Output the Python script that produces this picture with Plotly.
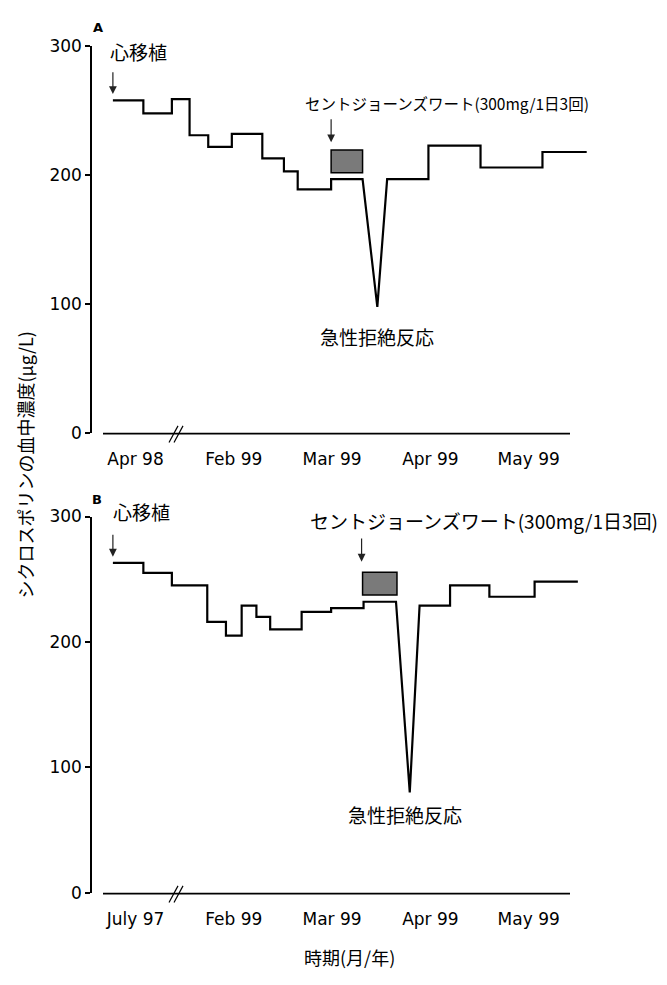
import plotly.graph_objects as go

W, H = 667, 985

# ---------------- data ----------------
tick_pos = [0, 1, 2, 3, 4]
months_A = ["Apr 98", "Feb 99", "Mar 99", "Apr 99", "May 99"]
months_B = ["July 97", "Feb 99", "Mar 99", "Apr 99", "May 99"]
y_ticks = [0, 100, 200, 300]

# Panel A: cyclosporine level steps (position on the broken time axis, level in ug/L)
a_pre_x = [-0.23, 0.08, 0.37, 0.55, 0.74, 0.98, 1.29, 1.51, 1.65, 1.99]
a_pre_y = [258, 248, 259, 231, 222, 232, 213, 203, 189, 197]
a_pre_end = 2.31
a_dip_x, a_dip_y = 2.46, 98
a_post_x = [2.56, 2.98, 3.51, 4.14]
a_post_y = [197, 223, 206, 218]
a_post_end = 4.59
a_sjw_x = [1.99, 2.31]
a_sjw_y = [202, 219.5]

# Panel B
b_pre_x = [-0.23, 0.08, 0.37, 0.73, 0.92, 1.08, 1.23, 1.37, 1.69, 1.99, 2.32]
b_pre_y = [263, 255, 245, 216, 205, 229, 220, 210, 224, 227, 232]
b_pre_end = 2.65
b_dip_x, b_dip_y = 2.79, 80
b_post_x = [2.89, 3.20, 3.60, 4.06]
b_post_y = [229, 245, 236, 248]
b_post_end = 4.50
b_sjw_x = [2.31, 2.66]
b_sjw_y = [237.5, 255.5]

sjw_label = "セントジョーンズワート(300mg/1日3回)"
tx_label = "心移植"
rej_label = "急性拒絶反応"


def build(sx, sy, end, dx, dy, px, py, pend):
    xs, ys = [], []
    for i in range(len(sx)):
        x1 = sx[i + 1] if i + 1 < len(sx) else end
        xs += [sx[i], x1]
        ys += [sy[i], sy[i]]
    xs.append(dx)
    ys.append(dy)
    for i in range(len(px)):
        x1 = px[i + 1] if i + 1 < len(px) else pend
        xs += [px[i], x1]
        ys += [py[i], py[i]]
    return xs, ys


ax_x, ax_y = build(a_pre_x, a_pre_y, a_pre_end, a_dip_x, a_dip_y, a_post_x, a_post_y, a_post_end)
bx_x, bx_y = build(b_pre_x, b_pre_y, b_pre_end, b_dip_x, b_dip_y, b_post_x, b_post_y, b_post_end)

fig = go.Figure()
fig.add_trace(go.Scatter(x=ax_x, y=ax_y, mode="lines", line=dict(color="black", width=2.2),
                         xaxis="x", yaxis="y", showlegend=False, hoverinfo="skip"))
fig.add_trace(go.Scatter(x=bx_x, y=bx_y, mode="lines", line=dict(color="black", width=2.2),
                         xaxis="x2", yaxis="y2", showlegend=False, hoverinfo="skip"))


def px2paper_x(p):
    return p / W


def px2paper_y(p):
    return 1 - p / H


x_dom = [px2paper_x(103), px2paper_x(600)]
x_rng = [(103 - 135.5) / 98.3, (600 - 135.5) / 98.3]
yA_dom = [px2paper_y(432), px2paper_y(37)]
yB_dom = [px2paper_y(901), px2paper_y(517)]
y_pos = px2paper_x(91)

tickfont = dict(family="DejaVu Sans", size=17, color="black")
cjk = "Noto Sans CJK JP"

common_x = dict(range=x_rng, domain=x_dom, showline=False, showgrid=False, zeroline=False,
                tickvals=tick_pos, ticks="", tickfont=tickfont, ticklabelstandoff=14,
                fixedrange=True)
common_y = dict(range=[0, 300], showline=True, linecolor="black", linewidth=1.5,
                showgrid=False, zeroline=False, tickvals=y_ticks, ticks="outside",
                ticklen=5, tickwidth=1.5, tickcolor="black", tickfont=tickfont,
                anchor="free", position=y_pos, fixedrange=True)

fig.update_layout(
    width=W, height=H,
    margin=dict(l=0, r=0, t=0, b=0),
    paper_bgcolor="white", plot_bgcolor="white",
    xaxis=dict(**common_x, ticktext=months_A, anchor="y"),
    yaxis=dict(**common_y, domain=yA_dom),
    xaxis2=dict(**common_x, ticktext=months_B, anchor="y2"),
    yaxis2=dict(**common_y, domain=yB_dom),
)

shapes = []
# baselines (x axes) and break marks
for ybase in (432.5, 902):
    shapes.append(dict(type="line", xref="paper", yref="paper",
                       x0=px2paper_x(103), x1=px2paper_x(570),
                       y0=px2paper_y(ybase), y1=px2paper_y(ybase),
                       line=dict(color="black", width=1.8)))
    for dx in (0, 5):
        shapes.append(dict(type="line", xref="paper", yref="paper",
                           x0=px2paper_x(169 + dx), x1=px2paper_x(178 + dx),
                           y0=px2paper_y(ybase + 9), y1=px2paper_y(ybase - 8),
                           line=dict(color="black", width=1.2)))
# St John's wort boxes
shapes.append(dict(type="rect", xref="x", yref="y", x0=a_sjw_x[0], x1=a_sjw_x[1],
                   y0=a_sjw_y[0], y1=a_sjw_y[1], fillcolor="#7a7a7a",
                   line=dict(color="black", width=1.5)))
shapes.append(dict(type="rect", xref="x2", yref="y2", x0=b_sjw_x[0], x1=b_sjw_x[1],
                   y0=b_sjw_y[0], y1=b_sjw_y[1], fillcolor="#7a7a7a",
                   line=dict(color="black", width=1.5)))
fig.update_layout(shapes=shapes)

ann = []


def arrow(xr, yr, x, y_tail, y_tip):
    return dict(xref=xr, yref=yr, axref=xr, ayref=yr, x=x, y=y_tip, ax=x, ay=y_tail,
                text="", showarrow=True, arrowhead=2, arrowsize=1.3, arrowwidth=1.2,
                arrowcolor="#222")


def ptext(x, y, text, size, xanchor="left", family=cjk, angle=0):
    return dict(xref="paper", yref="paper", x=px2paper_x(x), y=px2paper_y(y), text=text,
                showarrow=False, xanchor=xanchor, yanchor="middle", textangle=angle,
                font=dict(family=family, size=size, color="black"))


def label(xr, yr, x, y, text, size, xanchor="left"):
    return dict(xref=xr, yref=yr, x=x, y=y, text=text, showarrow=False,
                xanchor=xanchor, yanchor="middle",
                font=dict(family=cjk, size=size, color="black"))


# Panel A
ann.append(arrow("x", "y", a_pre_x[0], 281, 263))
ann.append(ptext(108, 42, tx_label, 19))
ann.append(arrow("x", "y", a_sjw_x[0], 244.5, 225.5))
ann.append(ptext(303, 95, sjw_label, 15.5))
ann.append(label("x", "y", a_dip_x, 75, rej_label, 19, "center"))
# Panel B
ann.append(arrow("x2", "y2", b_pre_x[0], 286.7, 268))
ann.append(ptext(111, 512, tx_label, 19))
ann.append(arrow("x2", "y2", b_sjw_x[0] - 0.01, 283.6, 264))
ann.append(ptext(308, 521, sjw_label, 19))
ann.append(label("x2", "y2", 2.74, 62, rej_label, 19, "center"))

# Panel letters
ann.append(ptext(98, 18, "<b>A</b>", 13, "center", "DejaVu Sans"))
ann.append(ptext(97, 500, "<b>B</b>", 13, "center", "DejaVu Sans"))
# Axis titles
ann.append(ptext(25, 465, "シクロスポリンの血中濃度(μg/L)", 18, "center", cjk, -90))
ann.append(ptext(350, 967, "時期(月/年)", 18, "center"))
fig.update_layout(annotations=ann)

fig.write_html("out.html", config={"displayModeBar": False},
               post_script="document.body.style.margin='0';")
